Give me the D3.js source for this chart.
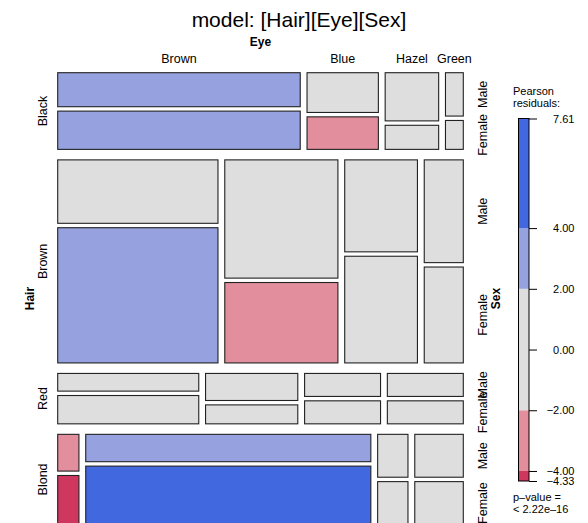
<!DOCTYPE html>
<html>
<head>
  <meta charset="utf-8">
  <title>Mosaic plot: Hair, Eye, Sex</title>
  <style>
    body { margin: 0; background: #fff; }
    text { font-family: "Liberation Sans", Arial, Helvetica, sans-serif; fill: #000; }
  </style>
</head>
<body>
<div id="chart"></div>
<script src="https://d3js.org/d3.v7.min.js"></script>
<script>
  // data
  var hair = ["Black", "Brown", "Red", "Blond"];
  var eye = ["Brown", "Blue", "Hazel", "Green"];
  var sex = ["Male", "Female"];
  // counts per hair row, eye column
  var countsMale = [[32, 11, 10, 3], [38, 50, 25, 15], [10, 10, 7, 7], [3, 30, 5, 8]];
  var countsFemale = [[36, 9, 5, 2], [81, 34, 29, 14], [16, 7, 7, 7], [4, 64, 5, 8]];
  // Pearson residuals under [Hair][Eye][Sex]
  var residMale = [[3.33, -1.55, 0.88, -0.97], [-1.36, 0.54, 1.11, 0.33], [-0.51, -0.44, 0.91, 1.93], [-3.93, 2.08, -1.31, 0.76]];
  var residFemale = [[2.92, -2.73, -1.44, -1.76], [2.88, -3.10, 0.82, -0.76], [0.36, -1.93, 0.33, 1.33], [-4.33, 7.61, -1.82, 0.14]];
  var legendTicks = [7.61, 4, 2, 0, -2, -4, -4.33];
  var shadeBreaks = [-4.33, -4, -2, 2, 4, 7.61];

  var W = 588, H = 523;
  var plot = { left: 57.7, right: 463.3, top: 72.7, bottom: 524.5 };
  var GAP_HAIR = 10.5, GAP_EYE = 6.8, GAP_SEX = 4.4;

  var color = d3.scaleThreshold()
    .domain([-4, -2, 2, 4])
    .range(["#D0375F", "#E28E9C", "#DEDEDE", "#96A2DF", "#4268E0"]);

  var svg = d3.select("#chart").append("svg")
    .attr("width", W).attr("height", H);

  var counts = [countsMale, countsFemale];
  var resid = [residMale, residFemale];
  var hairTotals = hair.map(function (h, i) {
    return d3.sum(eye, function (e, j) { return countsMale[i][j] + countsFemale[i][j]; });
  });
  var grand = d3.sum(hairTotals);

  // scale for hair rows (vertical)
  var yUnit = d3.scaleLinear().domain([0, grand])
    .range([0, (plot.bottom - plot.top) - GAP_HAIR * (hair.length - 1)]);

  var cells = [];
  var rows = [];
  var cum = 0;
  hair.forEach(function (h, i) {
    var y0 = plot.top + yUnit(cum) + i * GAP_HAIR;
    var rh = yUnit(hairTotals[i]);
    cum += hairTotals[i];
    var xUnit = d3.scaleLinear().domain([0, hairTotals[i]])
      .range([0, (plot.right - plot.left) - GAP_EYE * (eye.length - 1)]);
    var cx = 0;
    var cols = [];
    eye.forEach(function (e, j) {
      var tot = countsMale[i][j] + countsFemale[i][j];
      var x0 = plot.left + xUnit(cx) + j * GAP_EYE;
      var cw = xUnit(tot);
      cx += tot;
      var sUnit = d3.scaleLinear().domain([0, tot]).range([0, rh - GAP_SEX]);
      var sy = y0;
      var sexCells = [];
      sex.forEach(function (s, k) {
        var n = counts[k][i][j];
        var c = { hair: h, eye: e, sex: s, n: n, r: resid[k][i][j], x: x0, y: sy, w: cw, h: sUnit(n) };
        cells.push(c);
        sexCells.push(c);
        sy += sUnit(n) + GAP_SEX;
      });
      cols.push({ x: x0, w: cw, sexCells: sexCells });
    });
    rows.push({ y: y0, h: rh, cols: cols });
  });

  svg.append("g").selectAll("rect")
    .data(cells).enter().append("rect")
    .attr("x", function (d) { return d.x; })
    .attr("y", function (d) { return d.y; })
    .attr("width", function (d) { return d.w; })
    .attr("height", function (d) { return Math.max(d.h, 0.5); })
    .attr("fill", function (d) { return color(d.r); })
    .attr("stroke", "#222")
    .attr("stroke-width", 1.1);

  // title
  svg.append("text")
    .attr("x", 299).attr("y", 27)
    .attr("text-anchor", "middle")
    .style("font-size", "21px")
    .text("model: [Hair][Eye][Sex]");

  // Eye labels (top)
  svg.append("text")
    .attr("x", (plot.left + plot.right) / 2).attr("y", 46)
    .attr("text-anchor", "middle")
    .style("font-size", "12px").style("font-weight", "bold")
    .text("Eye");
  svg.append("g").selectAll("text")
    .data(rows[0].cols).enter().append("text")
    .attr("x", function (d) { return d.x + d.w / 2; })
    .attr("y", 63)
    .attr("text-anchor", "middle")
    .style("font-size", "12.5px")
    .text(function (d, j) { return eye[j]; });

  // Hair labels (left)
  svg.append("text")
    .attr("transform", "translate(34," + ((plot.top + plot.bottom) / 2) + ") rotate(-90)")
    .attr("text-anchor", "middle")
    .style("font-size", "12px").style("font-weight", "bold")
    .text("Hair");
  svg.append("g").selectAll("text")
    .data(rows).enter().append("text")
    .attr("transform", function (d) { return "translate(47," + (d.y + d.h / 2) + ") rotate(-90)"; })
    .attr("text-anchor", "middle")
    .style("font-size", "12.5px")
    .text(function (d, i) { return hair[i]; });

  // Sex labels (right), placed on the last column of each row
  var sexLabels = [];
  rows.forEach(function (r) {
    r.cols[r.cols.length - 1].sexCells.forEach(function (c) { sexLabels.push(c); });
  });
  svg.append("g").selectAll("text")
    .data(sexLabels).enter().append("text")
    .attr("transform", function (d) { return "translate(486.5," + (d.y + d.h / 2) + ") rotate(-90)"; })
    .attr("text-anchor", "middle")
    .style("font-size", "12.5px")
    .text(function (d) { return d.sex; });
  svg.append("text")
    .attr("transform", "translate(500," + ((plot.top + plot.bottom) / 2) + ") rotate(-90)")
    .attr("text-anchor", "middle")
    .style("font-size", "12px").style("font-weight", "bold")
    .text("Sex");

  // legend
  var legX = 518.5, legW = 10.5;
  var yLeg = d3.scaleLinear().domain([-4.33, 7.61]).range([481, 118.5]);
  var leg = svg.append("g");
  leg.append("text").attr("x", 513).attr("y", 95).style("font-size", "11px").text("Pearson");
  leg.append("text").attr("x", 513).attr("y", 107).style("font-size", "11px").text("residuals:");
  var segs = d3.pairs(shadeBreaks);
  leg.selectAll("rect.seg")
    .data(segs).enter().append("rect")
    .attr("class", "seg")
    .attr("x", legX).attr("width", legW)
    .attr("y", function (d) { return yLeg(d[1]); })
    .attr("height", function (d) { return yLeg(d[0]) - yLeg(d[1]); })
    .attr("fill", function (d) { return color((d[0] + d[1]) / 2); });
  leg.append("rect")
    .attr("x", legX).attr("width", legW)
    .attr("y", yLeg(7.61)).attr("height", yLeg(-4.33) - yLeg(7.61))
    .attr("fill", "none").attr("stroke", "#000").attr("stroke-width", 1);
  var fmt = d3.format(".2f");
  var axis = d3.axisRight(yLeg)
    .tickValues(legendTicks)
    .tickSize(8)
    .tickPadding(3)
    .tickFormat(function (d) { return fmt(d).replace("-", "\u2212"); });
  var ax = leg.append("g")
    .attr("transform", "translate(" + (legX + legW) + ",0)")
    .call(axis);
  ax.select(".domain").remove();
  ax.selectAll("line").attr("stroke", "#000");
  ax.selectAll("text")
    .attr("x", 45.5)
    .attr("text-anchor", "end")
    .style("font-size", "11px")
    .style("font-family", "'Liberation Sans', Arial, sans-serif");
  leg.append("text").attr("x", 513).attr("y", 501).style("font-size", "11px").text("p\u2013value =");
  leg.append("text").attr("x", 513).attr("y", 513).style("font-size", "11px").text("< 2.22e\u201316");
</script>
</body>
</html>
